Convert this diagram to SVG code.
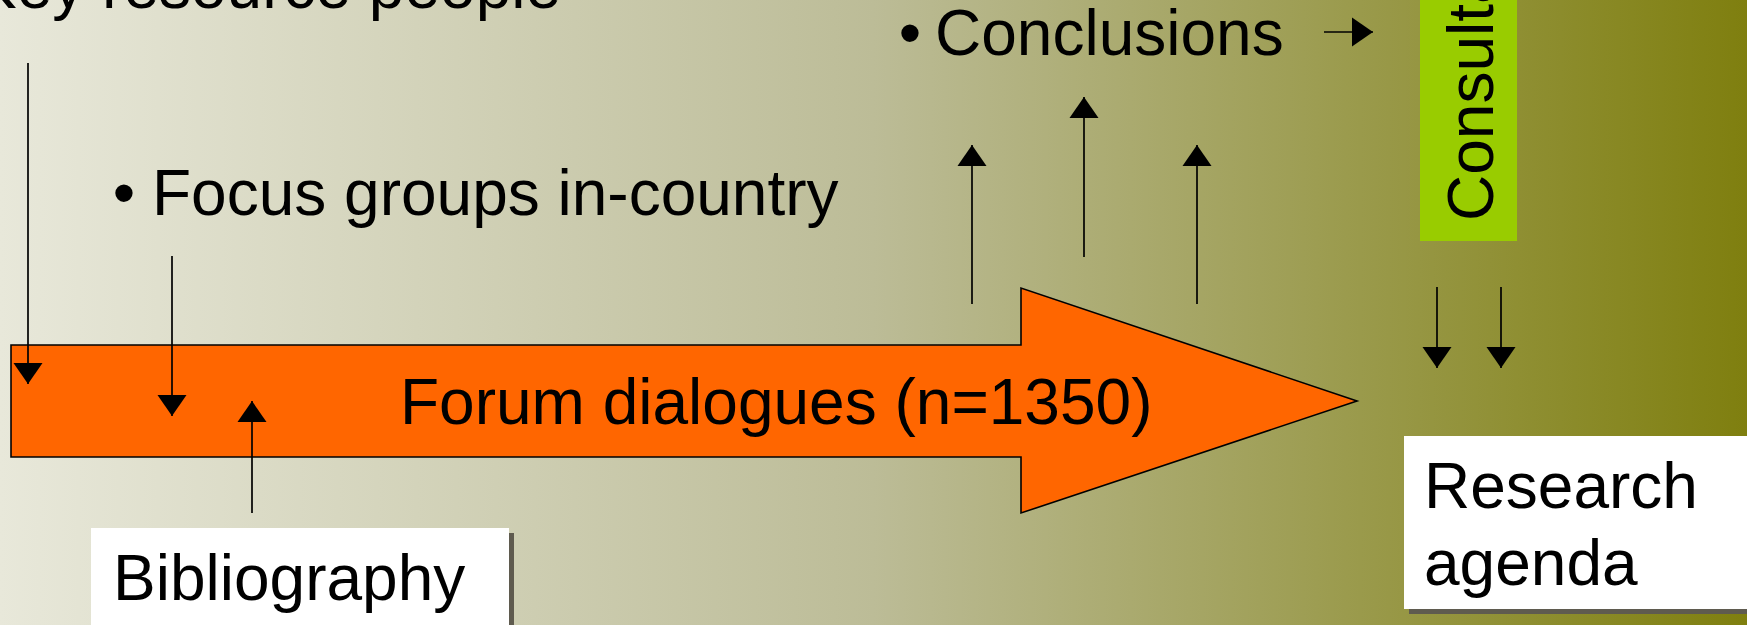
<svg xmlns="http://www.w3.org/2000/svg" width="1747" height="625" viewBox="0 0 1747 625">
<defs>
<linearGradient id="bg" x1="0" y1="0" x2="1" y2="0">
<stop offset="0" stop-color="#E8E8DA"/>
<stop offset="0.5" stop-color="#BCBC97"/>
<stop offset="1" stop-color="#7F7F0F"/>
</linearGradient>
<marker id="ah" markerUnits="userSpaceOnUse" markerWidth="22" markerHeight="30" viewBox="0 0 22 30" refX="21" refY="15" orient="auto">
<path d="M0,0.5 L21,15 L0,29.5 z" fill="#000"/>
</marker>
<style>
.t{font-family:"Liberation Sans",Arial,sans-serif;font-size:64px;fill:#000}
.c{stroke:#000;stroke-width:1.7;fill:none;marker-end:url(#ah)}
.sh{fill:#5F5B4F}
.box{fill:#FFFFFF}
</style>
</defs>
<rect x="0" y="0" width="1747" height="625" fill="url(#bg)"/>

<g id="key-resource-people">
<text class="t" x="-26" y="8">Key resource people</text>
</g>

<g id="focus-groups">
<text class="t" x="124" y="215" text-anchor="middle">•</text>
<text class="t" x="152" y="215">Focus groups in-country</text>
</g>

<g id="conclusions">
<text class="t" x="910" y="55" text-anchor="middle">•</text>
<text class="t" x="935" y="55">Conclusions</text>
</g>

<g id="consultation">
<rect x="1420" y="-10" width="97" height="251" fill="#99CC00"/>
<text class="t" transform="translate(1493,221) rotate(-90)">Consultation</text>
</g>

<g id="forum-dialogues">
<polygon points="11,345 1021,345 1021,288 1357,401 1021,513 1021,457 11,457" fill="#FF6600" stroke="#000" stroke-width="1.6" stroke-linejoin="miter"/>
<text class="t" x="400" y="424">Forum dialogues (n=1350)</text>
</g>

<g id="bibliography">
<rect class="sh" x="96" y="533" width="418" height="110"/>
<rect class="box" x="91" y="528" width="418" height="110"/>
<text class="t" x="113" y="600">Bibliography</text>
</g>

<g id="research-agenda">
<rect class="sh" x="1409" y="441" width="400" height="173"/>
<rect class="box" x="1404" y="436" width="400" height="173"/>
<text class="t" x="1424" y="508">Research</text>
<text class="t" x="1424" y="585">agenda</text>
</g>

<g id="connectors">
<line class="c" x1="28" y1="63" x2="28" y2="384"/>
<line class="c" x1="172" y1="256" x2="172" y2="416"/>
<line class="c" x1="252" y1="513" x2="252" y2="401"/>
<line class="c" x1="972" y1="304" x2="972" y2="145"/>
<line class="c" x1="1084" y1="257" x2="1084" y2="97"/>
<line class="c" x1="1197" y1="304" x2="1197" y2="145"/>
<line class="c" x1="1324" y1="32" x2="1373" y2="32"/>
<line class="c" x1="1437" y1="287" x2="1437" y2="368"/>
<line class="c" x1="1501" y1="287" x2="1501" y2="368"/>
</g>
</svg>
